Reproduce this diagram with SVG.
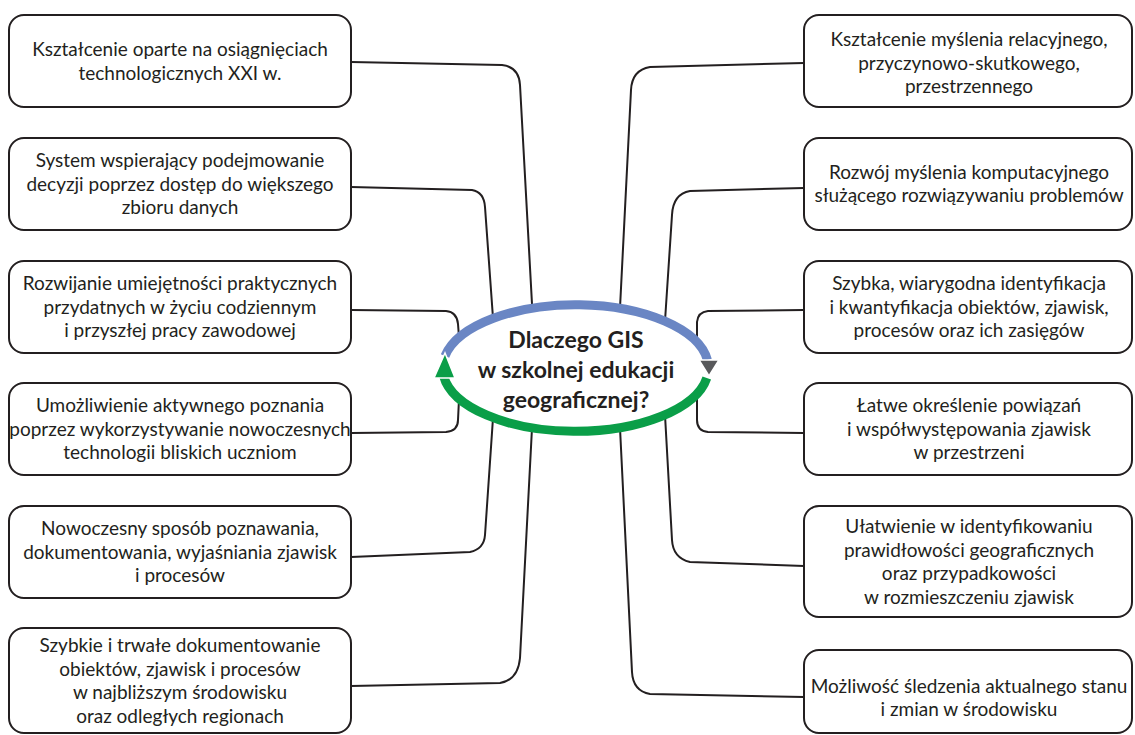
<svg xmlns="http://www.w3.org/2000/svg" width="1135" height="735" viewBox="0 0 1135 735">
<style>
.box{fill:#fff;stroke:#231f20;stroke-width:2}
.t{font-family:Lato,"Open Sans","Liberation Sans",sans-serif;font-size:19px;fill:#231f20;text-anchor:middle}
.ttl{font-family:Lato,"Open Sans","Liberation Sans",sans-serif;font-size:23px;font-weight:bold;fill:#231f20;text-anchor:middle}
.c{fill:none;stroke:#231f20;stroke-width:2}
</style>
<rect width="1135" height="735" fill="#fff"/>
<g id="connectors">
<path class="c" d="M351,62 L502,65 Q519,67 520,85 L532,304"/>
<path class="c" d="M351,187 L472,190 Q484,192 485,207 L493,318"/>
<path class="c" d="M351,310 L446,311 Q457,312 458,324 L459,337"/>
<path class="c" d="M351,433 L446,432 Q458,431 458,420 L459,399"/>
<path class="c" d="M351,557 L470,552 Q484,549 485,535 L493,418"/>
<path class="c" d="M351,686 L500,683 Q518,680 520,658 L532,428"/>
<path class="c" d="M804,63 L650,67 Q632,70 631,90 L620,308"/>
<path class="c" d="M804,188 L690,191 Q673,194 672,215 L665,321"/>
<path class="c" d="M804,310 L708,311 Q698,312 697,322 L697,342"/>
<path class="c" d="M804,433 L708,432 Q697,431 697,420 L697,394"/>
<path class="c" d="M804,566 L690,562 Q673,558 672,540 L665,415"/>
<path class="c" d="M804,697 L650,694 Q633,691 632,672 L620,428"/>
</g>
<g id="center">
<path d="M445,356 A133,63.5 0 0 1 707.4,360" fill="none" stroke="#6a86c4" stroke-width="9"/>
<path d="M706.8,378 A133,63.5 0 0 1 443.6,376" fill="none" stroke="#0a9e48" stroke-width="9"/>
<polygon points="699,360 719,360 709,376" fill="#58595b" stroke="#fff" stroke-width="1.5"/>
<polygon points="434,378 455,378 445,353" fill="#0a9e48" stroke="#fff" stroke-width="1.5"/>
<text class="ttl" x="576" y="348">Dlaczego GIS</text>
<text class="ttl" x="576" y="378">w szkolnej edukacji</text>
<text class="ttl" x="576" y="408">geograficznej?</text>
</g>
<g id="L1"><rect class="box" x="9" y="15" width="342" height="92" rx="15"/>
<text class="t" x="180" y="56">Kształcenie oparte na osiągnięciach</text>
<text class="t" x="180" y="79.5">technologicznych XXI w.</text></g>
<g id="L2"><rect class="box" x="9" y="138" width="342" height="92" rx="15"/>
<text class="t" x="180" y="167">System wspierający podejmowanie</text>
<text class="t" x="180" y="190.5">decyzji poprzez dostęp do większego</text>
<text class="t" x="180" y="214">zbioru danych</text></g>
<g id="L3"><rect class="box" x="9" y="261" width="342" height="92" rx="15"/>
<text class="t" x="180" y="290">Rozwijanie umiejętności praktycznych</text>
<text class="t" x="180" y="313.5">przydatnych w życiu codziennym</text>
<text class="t" x="180" y="337">i przyszłej pracy zawodowej</text></g>
<g id="L4"><rect class="box" x="9" y="383" width="342" height="92" rx="15"/>
<text class="t" x="180" y="412">Umożliwienie aktywnego poznania</text>
<text class="t" x="180" y="435.5">poprzez wykorzystywanie nowoczesnych</text>
<text class="t" x="180" y="459">technologii bliskich uczniom</text></g>
<g id="L5"><rect class="box" x="9" y="506" width="342" height="92" rx="15"/>
<text class="t" x="180" y="535">Nowoczesny sposób poznawania,</text>
<text class="t" x="180" y="558.5">dokumentowania, wyjaśniania zjawisk</text>
<text class="t" x="180" y="582">i procesów</text></g>
<g id="L6"><rect class="box" x="9" y="628" width="342" height="105" rx="15"/>
<text class="t" x="180" y="652">Szybkie i trwałe dokumentowanie</text>
<text class="t" x="180" y="675.5">obiektów, zjawisk i procesów</text>
<text class="t" x="180" y="699">w najbliższym środowisku</text>
<text class="t" x="180" y="722.5">oraz odległych regionach</text></g>
<g id="R1"><rect class="box" x="804" y="15" width="328" height="92" rx="15"/>
<text class="t" x="969" y="46">Kształcenie myślenia relacyjnego,</text>
<text class="t" x="969" y="69.5">przyczynowo-skutkowego,</text>
<text class="t" x="969" y="93">przestrzennego</text></g>
<g id="R2"><rect class="box" x="804" y="138" width="328" height="92" rx="15"/>
<text class="t" x="969" y="178.5">Rozwój myślenia komputacyjnego</text>
<text class="t" x="969" y="202">służącego rozwiązywaniu problemów</text></g>
<g id="R3"><rect class="box" x="804" y="261" width="328" height="92" rx="15"/>
<text class="t" x="969" y="290">Szybka, wiarygodna identyfikacja</text>
<text class="t" x="969" y="313.5">i kwantyfikacja obiektów, zjawisk,</text>
<text class="t" x="969" y="337">procesów oraz ich zasięgów</text></g>
<g id="R4"><rect class="box" x="804" y="383" width="328" height="92" rx="15"/>
<text class="t" x="969" y="412">Łatwe określenie powiązań</text>
<text class="t" x="969" y="435.5">i współwystępowania zjawisk</text>
<text class="t" x="969" y="459">w przestrzeni</text></g>
<g id="R5"><rect class="box" x="804" y="506" width="328" height="111" rx="15"/>
<text class="t" x="969" y="533">Ułatwienie w identyfikowaniu</text>
<text class="t" x="969" y="556.5">prawidłowości geograficznych</text>
<text class="t" x="969" y="580">oraz przypadkowości</text>
<text class="t" x="969" y="603.5">w rozmieszczeniu zjawisk</text></g>
<g id="R6"><rect class="box" x="804" y="650" width="328" height="83" rx="15"/>
<text class="t" x="969" y="692.5">Możliwość śledzenia aktualnego stanu</text>
<text class="t" x="969" y="716">i zmian w środowisku</text></g>
</svg>
